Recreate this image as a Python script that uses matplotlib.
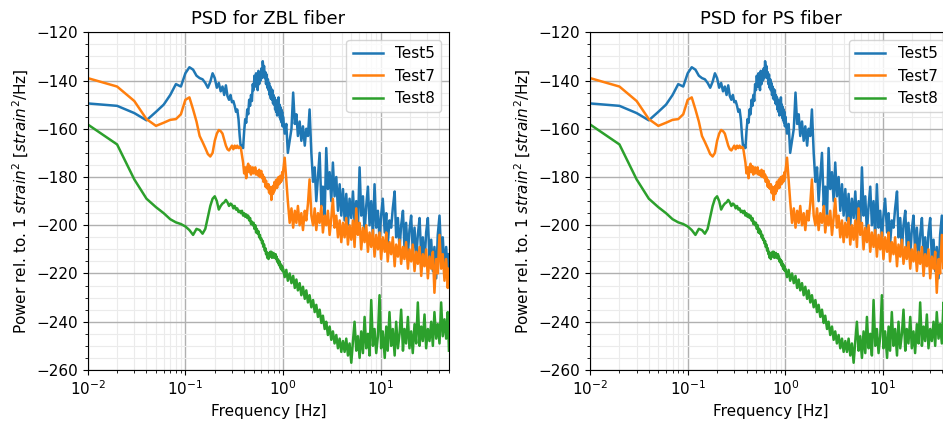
import numpy as np
import matplotlib
matplotlib.use("Agg")
import matplotlib.pyplot as plt
from matplotlib.ticker import MultipleLocator, LogLocator, NullFormatter

# Frequency bins: 0.01 Hz resolution up to 1 Hz, then a coarser set up to Nyquist
freq_lo = np.round(np.arange(1, 100) * 0.01, 2)
freq_hi = [1.00, 1.04, 1.08, 1.12, 1.17, 1.22, 1.27, 1.32, 1.37, 1.42, 1.48, 1.54,
           1.60, 1.67, 1.73, 1.80, 1.87, 1.95, 2.03, 2.11, 2.19, 2.28, 2.37, 2.47,
           2.56, 2.67, 2.77, 2.88, 3.00, 3.12, 3.24, 3.37, 3.51, 3.65, 3.80, 3.95,
           4.11, 4.27, 4.44, 4.62, 4.80, 5.00, 5.20, 5.40, 5.62, 5.84, 6.08, 6.32,
           6.58, 6.84, 7.11, 7.40, 7.69, 8.00, 8.32, 8.65, 9.00, 9.36, 9.73, 10.1,
           10.5, 11.0, 11.4, 11.8, 12.3, 12.8, 13.3, 13.9, 14.4, 15.0, 15.6, 16.2,
           16.9, 17.5, 18.2, 19.0, 19.7, 20.5, 21.3, 22.2, 23.1, 24.0, 25.0, 26.0,
           27.0, 28.1, 29.2, 30.4, 31.6, 32.9, 34.2, 35.5, 37.0, 38.4, 40.0, 41.6,
           43.2, 45.0, 46.8, 48.6, 50.0]

# Test5 PSD [dB rel. 1 strain^2/Hz]
test5_lo = [-149.5, -150.5, -153.5, -156.5, -153.0, -150.0, -146.0, -141.5, -142.5, -137.0,
            -134.5, -135.5, -138.0, -139.0, -139.5, -141.0, -143.0, -140.5, -137.0, -139.0,
            -143.0, -141.0, -144.5, -142.5, -146.0, -142.0, -146.5, -148.0, -146.0, -149.0,
            -148.5, -150.5, -153.0, -152.0, -156.0, -163.0, -168.0, -167.0, -168.0, -161.0,
            -156.0, -157.5, -152.0, -154.0, -148.0, -150.5, -146.0, -148.5, -141.5, -144.0,
            -138.0, -142.5, -137.0, -141.0, -144.0, -136.0, -141.5, -137.0, -140.0, -135.0,
            -139.0, -132.0, -135.5, -134.0, -139.0, -136.5, -141.5, -137.5, -143.0, -139.5,
            -144.0, -141.0, -146.0, -142.5, -147.5, -143.5, -148.0, -144.0, -149.5, -146.0,
            -150.0, -147.0, -152.0, -148.0, -153.0, -149.0, -154.5, -148.5, -151.5, -147.0,
            -153.0, -150.0, -155.5, -151.0, -156.5, -152.0, -157.5, -153.0, -159.0]
test5_hi = [-155, -162, -158, -170, -165, -160, -145, -158, -154, -163, -157, -165,
            -159, -167, -160, -163, -152, -170, -182, -176, -190, -180, -170, -192,
            -184, -196, -168, -185, -178, -190, -174, -188, -180, -194, -183, -196,
            -185, -198, -187, -200, -189, -197, -186, -199, -190, -201, -176, -196,
            -188, -203, -192, -184, -200, -190, -205, -183, -201, -194, -206, -196,
            -189, -203, -195, -208, -198, -201, -193, -186, -205, -197, -210, -200,
            -194, -209, -199, -212, -202, -196, -211, -201, -214, -204, -197, -213,
            -205, -216, -203, -197, -214, -206, -219, -209, -222, -204, -196, -212,
            -205, -218, -209, -221, -212]

# Test7 PSD
test7_lo = [-139.0, -142.5, -148.5, -156.0, -158.8, -157.5, -156.3, -156.0, -154.0, -148.0,
            -147.0, -152.0, -157.0, -163.0, -165.5, -168.0, -170.5, -171.5, -170.0, -165.0,
            -162.0, -160.5, -161.0, -162.0, -164.5, -167.0, -168.5, -169.0, -168.0, -167.0,
            -168.5, -167.0, -168.0, -167.0, -168.0, -167.5, -168.0, -171.0, -174.0, -178.5,
            -176.0, -180.5, -176.0, -174.5, -178.0, -175.5, -179.0, -177.0, -176.0, -178.5,
            -177.0, -176.0, -179.0, -177.5, -178.0, -179.5, -177.0, -180.0, -178.0, -177.5,
            -180.5, -179.0, -182.0, -180.0, -181.0, -184.0, -181.5, -184.5, -183.0, -185.0,
            -183.0, -186.5, -184.0, -187.0, -184.5, -189.5, -186.0, -184.0, -187.0, -183.5,
            -186.0, -182.0, -185.0, -182.5, -184.0, -181.0, -184.5, -181.5, -183.0, -180.0,
            -183.0, -181.0, -182.5, -179.5, -182.0, -180.0, -181.5, -178.0, -180.5]
test7_hi = [-178, -172, -181, -190, -199, -193, -201, -194, -199, -192, -200, -195,
            -202, -194, -198, -191, -181, -196, -200, -193, -202, -195, -199, -192,
            -203, -196, -200, -194, -204, -197, -189, -201, -196, -205, -198, -207,
            -199, -205, -197, -208, -200, -206, -198, -209, -193, -204, -199, -210,
            -201, -207, -200, -211, -203, -209, -202, -213, -204, -210, -203, -214,
            -205, -211, -203, -215, -207, -212, -205, -217, -208, -213, -206, -216,
            -209, -214, -207, -218, -210, -215, -208, -219, -211, -216, -209, -221,
            -212, -217, -210, -222, -213, -218, -211, -228, -214, -220, -204, -218,
            -212, -223, -214, -226, -218]

# Test8 PSD
test8_lo = [-158.2, -166.5, -181.0, -189.0, -192.5, -195.0, -197.5, -198.8, -199.5, -200.5,
            -202.0, -204.0, -201.5, -202.0, -203.5, -201.5, -196.5, -192.0, -189.0, -188.0,
            -190.0, -193.5, -192.0, -191.0, -190.5, -189.5, -190.5, -192.0, -191.0, -191.5,
            -193.0, -192.0, -193.5, -193.0, -194.5, -194.0, -195.0, -194.0, -196.0, -195.0,
            -196.5, -195.5, -197.0, -196.0, -198.0, -197.0, -199.5, -198.5, -200.0, -199.0,
            -201.5, -200.0, -203.0, -201.5, -203.5, -202.5, -205.0, -204.0, -206.0, -205.5,
            -207.5, -206.5, -209.0, -208.0, -210.5, -209.5, -212.0, -211.0, -213.5, -212.5,
            -214.0, -211.5, -213.0, -211.0, -212.5, -211.0, -213.5, -211.5, -213.0, -211.5,
            -213.5, -212.0, -213.0, -212.0, -214.0, -213.0, -215.0, -214.0, -215.5, -214.5,
            -216.5, -215.0, -217.0, -216.0, -218.0, -216.5, -218.5, -217.0, -219.0]
test8_hi = [-218, -221.5, -218.5, -223, -220, -224, -221, -226, -222.5, -227, -224, -229,
            -225.5, -230.5, -227, -232, -229, -234, -231, -236, -233, -238, -235, -240.5,
            -237.5, -243, -240, -245.5, -242, -247.5, -244, -249, -245.5, -251, -247, -252.5,
            -248, -252.5, -247, -254, -249, -257, -248, -240, -252, -246, -255, -244,
            -253, -238, -251, -245, -254, -231, -250, -243, -253, -246, -229, -251,
            -244, -255, -242, -252, -236, -250, -243, -254, -240, -251, -245, -235,
            -252, -243, -249, -238, -251, -244, -253, -241, -249, -232, -250, -242,
            -248, -237, -251, -243, -248, -240, -250, -236, -247, -241, -249, -232,
            -246, -239, -247, -236, -252]

freq = np.concatenate([freq_lo, freq_hi])
series = [("Test5", np.concatenate([test5_lo, test5_hi])),
          ("Test7", np.concatenate([test7_lo, test7_hi])),
          ("Test8", np.concatenate([test8_lo, test8_hi]))]
titles = ["PSD for ZBL fiber", "PSD for PS fiber"]

fig = plt.figure(figsize=(9.43, 4.24), dpi=100)
positions = [[0.093, 0.1274, 0.3831, 0.7965], [0.6257, 0.1274, 0.3831, 0.7965]]

for pos, title in zip(positions, titles):
    ax = fig.add_axes(pos)
    for name, vals in series:
        ax.plot(freq, vals, lw=1.8, label=name)
    ax.set_xscale("log")
    ax.set_xlim(1e-2, 50)
    ax.set_ylim(-260, -120)
    ax.yaxis.set_major_locator(MultipleLocator(20))
    ax.yaxis.set_minor_locator(MultipleLocator(5))
    ax.xaxis.set_minor_locator(LogLocator(base=10, subs=np.arange(2, 10)))
    ax.xaxis.set_minor_formatter(NullFormatter())
    ax.grid(True, which="major", color="#b0b0b0", lw=1.0)
    ax.grid(True, which="minor", color="#ebebeb", lw=0.8)
    ax.set_axisbelow(True)
    ax.tick_params(labelsize=11)
    ax.set_title(title, fontsize=13)
    ax.set_xlabel("Frequency [Hz]", fontsize=11)
    ax.set_ylabel(r"Power rel. to. 1 $strain^2$ [$strain^2$/Hz]", fontsize=11)
    ax.legend(loc="upper right", fontsize=11)

fig.savefig("out.png", dpi=100)
